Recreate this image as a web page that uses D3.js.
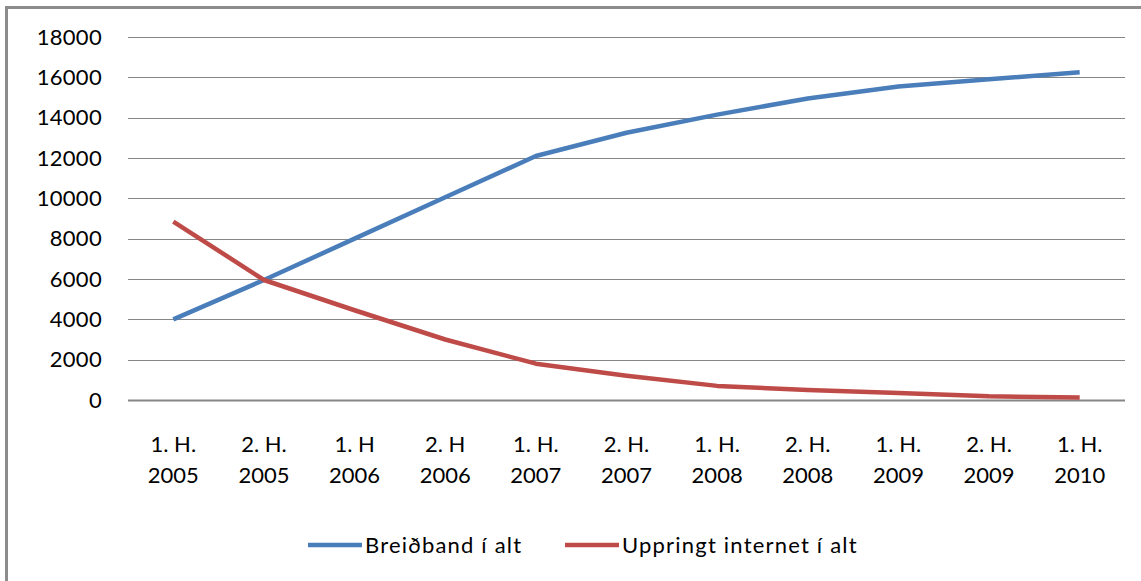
<!DOCTYPE html>
<html>
<head>
<meta charset="utf-8">
<script src="https://cdn.jsdelivr.net/npm/d3@7"></script>
<style>
  body { margin: 0; background: #fff; }
  svg text { font-family: Lato, "Open Sans", sans-serif; fill: #000; }
</style>
</head>
<body>
<div id="chart"></div>
<script>
var periods = ["1. H.", "2. H.", "1. H", "2. H", "1. H.", "2. H.", "1. H.", "2. H.", "1. H.", "2. H.", "1. H."];
var years = ["2005", "2005", "2006", "2006", "2007", "2007", "2008", "2008", "2009", "2009", "2010"];
var categories = periods.map((p, i) => p + " " + years[i]);

var breidband = [4000, 5950, 8000, 10050, 12100, 13250, 14150, 14950, 15550, 15900, 16250];
var uppringt = [8850, 5950, 4450, 3000, 1800, 1200, 700, 500, 350, 180, 120];

var yTicks = [0, 2000, 4000, 6000, 8000, 10000, 12000, 14000, 16000, 18000];
var seriesNames = ["Breiðband í alt", "Uppringt internet í alt"];
var colors = ["#4a7ebb", "#be4b48"];

var svgWidth = 1141;
var svgHeight = 581;

var margin = { top: 37, right: 16, bottom: 181, left: 128 };
var chartWidth = svgWidth - margin.left - margin.right;
var chartHeight = svgHeight - margin.top - margin.bottom;

var svg = d3.select("#chart")
  .append("svg")
  .attr("width", svgWidth)
  .attr("height", svgHeight);

// outer frame (only top and left edges show in the picture)
svg.append("rect")
  .attr("x", 6.5)
  .attr("y", 7.5)
  .attr("width", svgWidth + 10)
  .attr("height", svgHeight + 10)
  .attr("fill", "none")
  .attr("stroke", "#8c8c8c")
  .attr("stroke-width", 3);

var g = svg.append("g")
  .attr("transform", `translate(${margin.left}, ${margin.top})`);

var x = d3.scaleBand()
  .domain(categories)
  .range([0, chartWidth]);

var y = d3.scaleLinear()
  .domain([0, 18000])
  .range([chartHeight, 0]);

// gridlines
g.append("g")
  .selectAll("line")
  .data(yTicks)
  .enter()
  .append("line")
  .attr("x1", 0)
  .attr("x2", chartWidth)
  .attr("y1", d => Math.round(y(d)) + 0.5)
  .attr("y2", d => Math.round(y(d)) + 0.5)
  .attr("stroke", "#868686")
  .attr("stroke-width", d => d === 0 ? 2 : 1.2);

// y axis labels
var leftAxis = d3.axisLeft(y)
  .tickValues(yTicks)
  .tickFormat(d3.format("d"))
  .tickSize(0)
  .tickPadding(26);
g.append("g")
  .call(leftAxis)
  .call(a => a.select(".domain").remove())
  .selectAll("text")
  .style("font-size", "22px")
  .style("letter-spacing", "0.3px")
  .attr("fill", "#000");

// x axis labels (two lines)
var xLabels = g.append("g")
  .attr("transform", `translate(0, ${chartHeight})`);

xLabels.selectAll("text")
  .data(categories)
  .enter()
  .append("text")
  .attr("text-anchor", "middle")
  .style("font-size", "22px")
  .each(function(d, i) {
    var t = d3.select(this);
    var cx = x(d) + x.bandwidth() / 2;
    t.append("tspan").attr("x", cx).attr("y", 52).text(periods[i]);
    t.append("tspan").attr("x", cx).attr("y", 83).text(years[i]);
  });

var line = d3.line()
  .x((d, i) => x(categories[i]) + x.bandwidth() / 2)
  .y(d => y(d));

[breidband, uppringt].forEach(function(values, k) {
  g.append("path")
    .datum(values)
    .attr("fill", "none")
    .attr("stroke", colors[k])
    .attr("stroke-width", 4.5)
    .attr("stroke-linejoin", "round")
    .attr("d", line);
});

// legend
var legendItems = [
  { name: seriesNames[0], color: colors[0], x: 308 },
  { name: seriesNames[1], color: colors[1], x: 565 }
];
var legend = svg.append("g").attr("transform", "translate(0, 545)");
legendItems.forEach(function(item) {
  legend.append("line")
    .attr("x1", item.x)
    .attr("x2", item.x + 54)
    .attr("y1", 0)
    .attr("y2", 0)
    .attr("stroke", item.color)
    .attr("stroke-width", 4.5);
  legend.append("text")
    .attr("x", item.x + 57)
    .attr("y", 8)
    .style("font-size", "22px")
    .style("letter-spacing", "1.2px")
    .text(item.name);
});
</script>
</body>
</html>
